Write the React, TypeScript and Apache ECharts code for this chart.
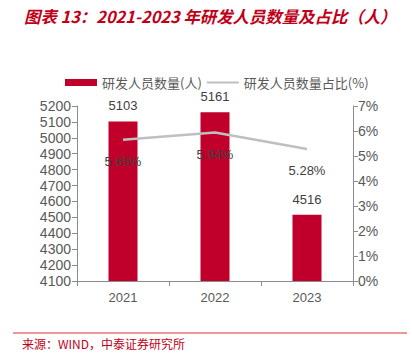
import React, { useEffect, useRef } from "react";
import * as echarts from "echarts";

const categories = ["2021", "2022", "2023"];
const staffCount = [5103, 5161, 4516];
const staffShare = [5.65, 5.94, 5.28];
const leftTicks = { min: 4100, max: 5200, interval: 100 };
const rightTicks = { min: 0, max: 7, interval: 1 };

const titleText = "图表 13：2021-2023 年研发人员数量及占比（人）";
const sourceText = "来源：WIND，中泰证券研究所";
const barName = "研发人员数量(人)";
const lineName = "研发人员数量占比(%)";

const numFont = "'Liberation Sans', Arial, sans-serif";
const cjkFont = "'Noto Sans CJK SC', 'Liberation Sans', sans-serif";

export default function App() {
  const ref = useRef<HTMLDivElement>(null);
  useEffect(() => {
    document.body.style.margin = "0";
    const chart = echarts.init(ref.current!, null, { renderer: "svg" });
    const axisColor = "#8c8c8c";
    const labelColor = "#595959";
    chart.setOption({
      animation: false,
      backgroundColor: "#ffffff",
      textStyle: { fontFamily: numFont },
      graphic: [
        {
          type: "text",
          left: 24,
          top: 8,
          style: {
            text: titleText,
            fill: "#c00018",
            font: "italic bold 16.4px " + cjkFont,
          },
        },
        {
          type: "line",
          shape: { x1: 13, y1: 333, x2: 407, y2: 333 },
          style: { stroke: "#e0302f", lineWidth: 1 },
        },
        {
          type: "text",
          left: 22,
          top: 337,
          style: {
            text: sourceText,
            fill: "#c00018",
            font: "12px " + cjkFont,
          },
        },
      ],
      legend: {
        left: 60,
        top: 71,
        itemGap: 4,
        itemWidth: 32,
        itemHeight: 7,
        textStyle: { color: labelColor, fontSize: 13, fontFamily: cjkFont },
        data: [
          { name: barName, icon: "rect" },
          { name: lineName, itemStyle: { opacity: 0 } },
        ],
      },
      grid: { left: 77, right: 59, top: 106, bottom: 72 },
      xAxis: {
        type: "category",
        data: categories,
        axisLine: { lineStyle: { color: axisColor, width: 1 } },
        axisTick: { show: true, length: 5, inside: false, lineStyle: { color: axisColor } },
        axisLabel: { color: labelColor, fontSize: 13, margin: 10, fontFamily: numFont },
      },
      yAxis: [
        {
          type: "value",
          min: leftTicks.min,
          max: leftTicks.max,
          interval: leftTicks.interval,
          splitLine: { show: false },
          axisLine: { show: true, lineStyle: { color: axisColor } },
          axisTick: { show: true, length: 5, lineStyle: { color: axisColor } },
          axisLabel: {
            color: labelColor,
            fontSize: 14,
            margin: 6,
            fontFamily: numFont,
            formatter: (v: number) => String(v),
          },
        },
        {
          type: "value",
          min: rightTicks.min,
          max: rightTicks.max,
          interval: rightTicks.interval,
          splitLine: { show: false },
          axisLine: { show: true, lineStyle: { color: axisColor } },
          axisTick: { show: true, length: 5, lineStyle: { color: axisColor } },
          axisLabel: {
            color: labelColor,
            fontSize: 14,
            margin: 5,
            fontFamily: numFont,
            formatter: (v: number) => v + "%",
          },
        },
      ],
      series: [
        {
          name: barName,
          type: "bar",
          data: staffCount,
          barWidth: 29,
          yAxisIndex: 0,
          z: 1,
          itemStyle: { color: "#c0002b" },
          label: {
            show: true,
            position: "top",
            distance: 9,
            color: "#404040",
            fontSize: 13,
            fontFamily: numFont,
          },
        },
        {
          name: lineName,
          type: "line",
          data: staffShare,
          yAxisIndex: 1,
          z: 2,
          symbol: "circle",
          symbolSize: 2,
          showSymbol: true,
          lineStyle: { color: "#bfbfbf", width: 2.5 },
          itemStyle: { color: "rgba(0,0,0,0)" },
          label: {
            show: true,
            position: "bottom",
            distance: 14,
            color: "#404040",
            fontSize: 13,
            fontFamily: numFont,
            formatter: (p: any) => Number(p.value).toFixed(2) + "%",
          },
        },
      ],
    });
    return () => chart.dispose();
  }, []);
  return (
    <div
      ref={ref}
      style={{ position: "absolute", left: 0, top: 0, width: 412, height: 353 }}
    />
  );
}
